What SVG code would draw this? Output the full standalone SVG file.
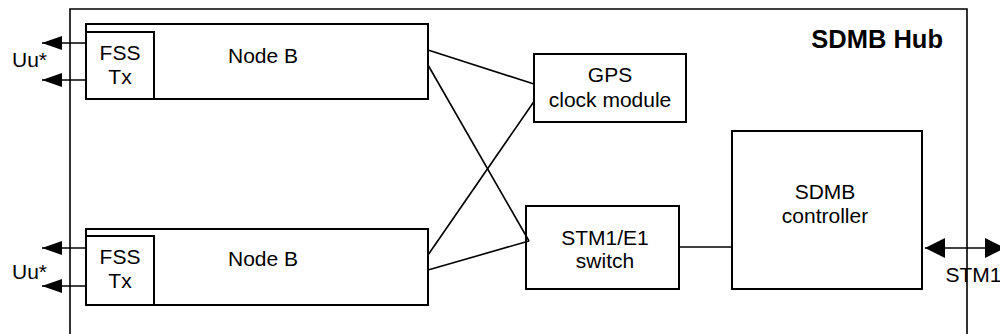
<svg xmlns="http://www.w3.org/2000/svg" width="1000" height="334" viewBox="0 0 1000 334">
  <style>
    .box { fill: #ffffff; stroke: #000000; stroke-width: 2; }
    .wire { fill: none; stroke: #000000; stroke-width: 1.6; }
    .frame { fill: none; stroke: #000000; stroke-width: 1.6; }
    .lbl { font-family: "Liberation Sans", Arial, sans-serif; font-size: 21px; fill: #000000; text-anchor: middle; }
    .side { font-family: "Liberation Sans", Arial, sans-serif; font-size: 21px; fill: #000000; }
    .title { font-family: "Liberation Sans", Arial, sans-serif; font-size: 25.5px; font-weight: bold; fill: #000000; text-anchor: end; }
  </style>
  <defs>
    <marker id="headSmall" markerWidth="20" markerHeight="14" refX="20" refY="7" orient="auto" markerUnits="userSpaceOnUse">
      <path d="M0,0 L20,7 L0,14 Z" fill="#000000"/>
    </marker>
    <marker id="headBig" markerWidth="20" markerHeight="20" refX="20" refY="10" orient="auto-start-reverse" markerUnits="userSpaceOnUse">
      <path d="M0,0 L20,10 L0,20 Z" fill="#000000"/>
    </marker>
  </defs>

  <rect x="0" y="0" width="1000" height="334" fill="#ffffff"/>

  <!-- hub enclosure (open at the bottom edge) -->
  <g id="hub">
    <path class="frame" d="M70,340 V9 H967 V340"/>
    <text class="title" x="943" y="47.5">SDMB Hub</text>
  </g>

  <!-- upper Node B with its FSS transmitter -->
  <g id="nodeb-top">
    <rect class="box" x="86" y="24" width="342" height="75"/>
    <rect class="box" x="86" y="32" width="68" height="67"/>
    <text class="lbl" x="120" y="59.5">FSS</text>
    <text class="lbl" x="120" y="84">Tx</text>
    <text class="lbl" x="263" y="62.5">Node B</text>
  </g>

  <!-- lower Node B with its FSS transmitter -->
  <g id="nodeb-bottom">
    <rect class="box" x="86" y="229" width="342" height="76"/>
    <rect class="box" x="86" y="236" width="68" height="69"/>
    <text class="lbl" x="120" y="263.5">FSS</text>
    <text class="lbl" x="120" y="288">Tx</text>
    <text class="lbl" x="263" y="266">Node B</text>
  </g>

  <g id="gps">
    <rect class="box" x="534" y="54" width="152" height="68"/>
    <text class="lbl" x="610" y="81.5">GPS</text>
    <text class="lbl" x="610" y="107">clock module</text>
  </g>

  <g id="switch">
    <rect class="box" x="526" y="206" width="153" height="83"/>
    <text class="lbl" x="605" y="244.5">STM1/E1</text>
    <text class="lbl" x="605" y="268">switch</text>
  </g>

  <g id="controller">
    <rect class="box" x="732" y="131" width="190" height="158"/>
    <text class="lbl" x="825" y="199">SDMB</text>
    <text class="lbl" x="825" y="222.5">controller</text>
  </g>

  <!-- external interfaces -->
  <g id="uu-top">
    <line class="wire" x1="86" y1="43" x2="42" y2="43" marker-end="url(#headSmall)"/>
    <line class="wire" x1="86" y1="80" x2="42" y2="80" marker-end="url(#headSmall)"/>
    <text class="side" x="12" y="66.5">Uu*</text>
  </g>
  <g id="uu-bottom">
    <line class="wire" x1="86" y1="248" x2="42" y2="248" marker-end="url(#headSmall)"/>
    <line class="wire" x1="86" y1="286" x2="42" y2="286" marker-end="url(#headSmall)"/>
    <text class="side" x="12" y="279">Uu*</text>
  </g>
  <g id="stm1">
    <line class="wire" x1="925" y1="248" x2="1005" y2="248" marker-start="url(#headBig)" marker-end="url(#headBig)"/>
    <text class="side" x="945.5" y="281.5">STM1</text>
  </g>

  <!-- internal links -->
  <g id="connectors">
    <line class="wire" x1="428" y1="50" x2="534" y2="84"/>
    <line class="wire" x1="428" y1="65" x2="529" y2="241"/>
    <line class="wire" x1="428" y1="255" x2="534" y2="101.5"/>
    <line class="wire" x1="428" y1="270" x2="529" y2="241"/>
    <line class="wire" x1="679" y1="247" x2="732" y2="247"/>
  </g>
</svg>
